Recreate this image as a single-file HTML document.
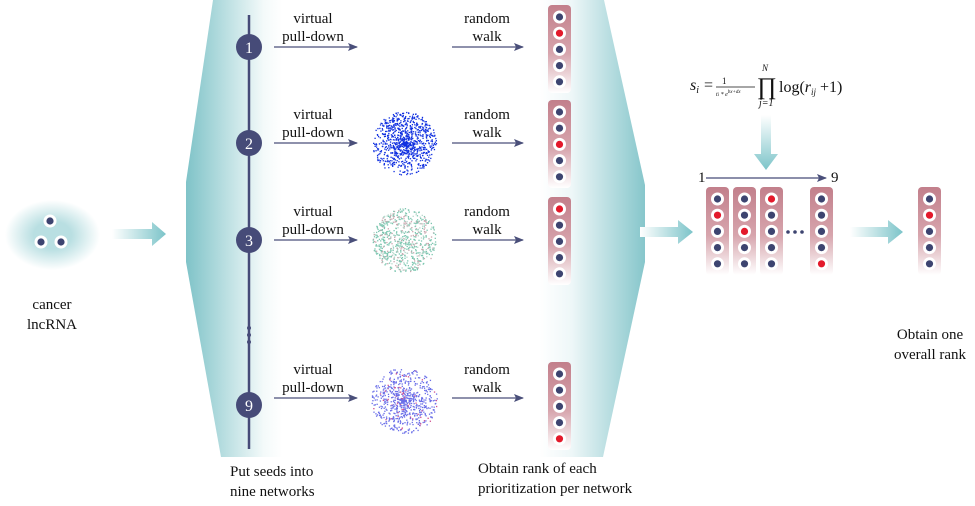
<!DOCTYPE html>
<html><head><meta charset="utf-8"><style>
body{margin:0;background:#fff;width:975px;height:501px;overflow:hidden}
text{font-family:"Liberation Serif",serif;fill:#111}
</style></head><body>
<svg id="s" width="975" height="501" viewBox="0 0 975 501" xmlns="http://www.w3.org/2000/svg">
<defs>
<linearGradient id="bg" x1="186" x2="645" y1="0" y2="0" gradientUnits="userSpaceOnUse">
<stop offset="0" stop-color="#7fc3c8"/><stop offset="0.17" stop-color="#f4fafa"/><stop offset="0.21" stop-color="#fff"/>
<stop offset="0.77" stop-color="#fff"/><stop offset="0.84" stop-color="#eef7f8"/><stop offset="1" stop-color="#86c6cb"/></linearGradient>
<linearGradient id="col" x1="0" x2="0" y1="0" y2="1"><stop offset="0" stop-color="#c27f8b"/><stop offset="0.55" stop-color="#d7a5ad"/><stop offset="1" stop-color="#fff"/></linearGradient>
<linearGradient id="ar" x1="0" x2="1" y1="0" y2="0"><stop offset="0" stop-color="#fff"/><stop offset="1" stop-color="#7cc4c9"/></linearGradient>
<linearGradient id="ard" x1="0" x2="0" y1="0" y2="1"><stop offset="0" stop-color="#fff"/><stop offset="1" stop-color="#7cc4c9"/></linearGradient>
<radialGradient id="blob"><stop offset="0.4" stop-color="#b9dfe2"/><stop offset="1" stop-color="#fff"/></radialGradient>
<marker id="m" markerWidth="10" markerHeight="8" refX="9" refY="4" orient="auto" markerUnits="userSpaceOnUse"><path d="M0,0 L10,4 L0,8 L2,4z" fill="#4a4f7a"/></marker>
</defs>
<polygon points="213,0 604,0 645,185 645,262 603,457 221,457 186,262 186,182" fill="url(#bg)"/>
<rect x="5" y="200" width="95" height="70" rx="30" fill="url(#blob)"/>
<g id="seed"></g>
<polygon points="112,229 152,229 152,222 166,234 152,246 152,239 112,239" fill="url(#ar)"/>
<text x="52" y="309" font-size="15" text-anchor="middle">cancer</text>
<text x="52" y="329" font-size="15" text-anchor="middle">lncRNA</text>
<line x1="249" y1="15" x2="249" y2="449" stroke="#464b78" stroke-width="2.5"/>
<circle cx="249" cy="328" r="2" fill="#464b78"/><circle cx="249" cy="335" r="2" fill="#464b78"/><circle cx="249" cy="342" r="2" fill="#464b78"/>
<g id="rows"></g>
<text x="230" y="476" font-size="15">Put seeds into</text>
<text x="230" y="496" font-size="15">nine networks</text>
<text x="478" y="473" font-size="15">Obtain rank of each</text>
<text x="478" y="493" font-size="15">prioritization per network</text>
<polygon points="640,227 678,227 678,220 693,232 678,244 678,237 640,237" fill="url(#ar)"/>
<polygon points="850,227 888,227 888,220 903,232 888,244 888,237 850,237" fill="url(#ar)"/>
<polygon points="761,115 771,115 771,154 778,154 766,170 754,154 761,154" fill="url(#ard)"/>
<text x="698" y="182" font-size="15">1</text>
<line x1="706" y1="178" x2="826" y2="178" stroke="#464b78" stroke-width="1.3" marker-end="url(#m)"/>
<text x="831" y="182" font-size="15">9</text>
<circle cx="788" cy="232" r="1.8" fill="#3d4470"/><circle cx="795" cy="232" r="1.8" fill="#3d4470"/><circle cx="802" cy="232" r="1.8" fill="#3d4470"/>
<text x="690" y="90" font-size="16" font-style="italic">s<tspan font-size="10" dy="3">i</tspan></text>
<text x="704" y="90" font-size="16">=</text>
<text x="722" y="84" font-size="9">1</text>
<line x1="716" y1="87" x2="755" y2="87" stroke="#111" stroke-width="0.8"/>
<text x="716" y="96" font-size="6" font-style="italic">t<tspan font-size="5">i</tspan> * e<tspan font-size="5" dy="-3">bx+dx</tspan></text>
<text x="757" y="94" font-size="24">∏</text>
<text x="762" y="71" font-size="9" font-style="italic">N</text>
<text x="759" y="106" font-size="10" font-style="italic">j=1</text>
<text x="779" y="92" font-size="16">log(<tspan font-style="italic">r</tspan><tspan font-size="9" dy="3" font-style="italic">ij</tspan><tspan dy="-3"> +1)</tspan></text>
<text x="930" y="339" font-size="15" text-anchor="middle">Obtain one</text>
<text x="930" y="359" font-size="15" text-anchor="middle">overall rank</text>
<g id="cols"></g>
</svg>
<script>
var NS="http://www.w3.org/2000/svg";
function el(p,t,a){var e=document.createElementNS(NS,t);for(var k in a)e.setAttribute(k,a[k]);p.appendChild(e);return e;}
var seed=7;function rnd(){seed=(seed*16807)%2147483647;return (seed-1)/2147483646;}
function dot(g,x,y,red){el(g,"circle",{cx:x,cy:y,r:6.5,fill:"#fff"});el(g,"circle",{cx:x,cy:y,r:3.6,fill:red?"#e3192b":"#3d4470"});}
function column(g,x,y,redIdx){el(g,"rect",{x:x,y:y,width:23,height:88,rx:4,fill:"url(#col)"});for(var i=0;i<5;i++)dot(g,x+11.5,y+12+i*16.2,i==redIdx);}
var sd=document.getElementById("seed");
dot(sd,50,221);dot(sd,41,242);dot(sd,61,242);
var rows=document.getElementById("rows");
var ys=[47,143,240,405],nums=["1","2","3","9"],reds=[1,2,0,4],tops=[5,100,197,362];
for(var r=0;r<4;r++){var y=ys[r];var ay=r==3?398:y;
 el(rows,"circle",{cx:249,cy:y,r:13,fill:"#464b78"});
 var t=el(rows,"text",{x:249,y:y+6,"font-size":16,"text-anchor":"middle",style:"fill:#fff"});t.textContent=nums[r];
 el(rows,"line",{x1:274,y1:ay,x2:357,y2:ay,stroke:"#4a4f7a","stroke-width":1.3,"marker-end":"url(#m)"});
 el(rows,"line",{x1:452,y1:ay,x2:523,y2:ay,stroke:"#4a4f7a","stroke-width":1.3,"marker-end":"url(#m)"});
 var a=el(rows,"text",{x:313,y:ay-24,"font-size":15,"text-anchor":"middle"});a.textContent="virtual";
 a=el(rows,"text",{x:313,y:ay-6,"font-size":15,"text-anchor":"middle"});a.textContent="pull-down";
 a=el(rows,"text",{x:487,y:ay-24,"font-size":15,"text-anchor":"middle"});a.textContent="random";
 a=el(rows,"text",{x:487,y:ay-6,"font-size":15,"text-anchor":"middle"});a.textContent="walk";
 column(rows,548,tops[r],reds[r]);
}
function cloud(cx,cy,R,n,col,mode){for(var i=0;i<n;i++){var ang=rnd()*6.283,rr;
 if(mode==1){rr=R*Math.pow(rnd(),0.85);}else rr=R*Math.sqrt(rnd());
 var c=typeof col=="function"?col():col;el(rows,"rect",{x:cx+rr*Math.cos(ang),y:cy+rr*Math.sin(ang),width:1.3,height:1.3,fill:c});}}
cloud(404,143,32,900,"#1030e0",1);
cloud(404,240,32,700,function(){var q=rnd();return q<0.65?"#7cc6b0":(q<0.85?"#c9a6ae":"#b8d8cc");},0);
cloud(404,400,33,700,function(){return rnd()<0.9?"#6a6fe8":"#d05090";},1);
var cols=document.getElementById("cols");
column(cols,706,187,1);column(cols,733,187,2);column(cols,760,187,0);column(cols,810,187,4);column(cols,918,187,1);
</script>
</body></html>
